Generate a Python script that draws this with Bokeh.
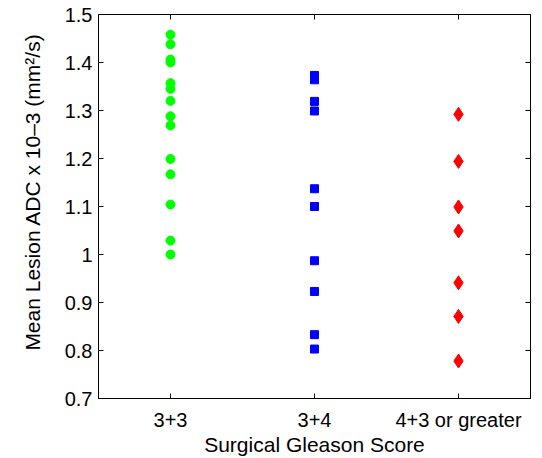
from bokeh.plotting import figure
from bokeh.models import FactorRange, Range1d, FixedTicker, LinearAxis, CategoricalAxis
from bokeh.embed import file_html
from bokeh.resources import INLINE

# ---- data ----
categories = ["3+3", "3+4", "4+3 or greater"]
adc_3p3 = [1.458, 1.438, 1.406, 1.400, 1.357, 1.345, 1.320, 1.288, 1.269,
           1.199, 1.167, 1.104, 1.029, 1.000]
adc_3p4 = [1.373, 1.364, 1.319, 1.299, 1.137, 1.100, 0.987, 0.923, 0.833, 0.803]
adc_4p3 = [1.292, 1.194, 1.099, 1.049, 0.941, 0.871, 0.778]
y_ticks = [0.7, 0.8, 0.9, 1.0, 1.1, 1.2, 1.3, 1.4, 1.5]
y_tick_labels = ["0.7", "0.8", "0.9", "1", "1.1", "1.2", "1.3", "1.4", "1.5"]
x_label = "Surgical Gleason Score"
y_label = "Mean Lesion ADC x 10\u20133 (mm\u00b2/s)"

FONT = "Liberation Sans"
TICK_SIZE = "20px"
LABEL_SIZE = "21px"

p = figure(width=542, height=458, output_backend="svg", toolbar_location=None,
           x_range=FactorRange(*categories, range_padding=0),
           y_range=Range1d(0.7, 1.5),
           min_border_left=98, min_border_right=12, min_border_top=14,
           min_border_bottom=60)

p.background_fill_color = "white"
p.border_fill_color = "white"
p.outline_line_color = "black"
p.outline_line_width = 1
p.xgrid.visible = False
p.ygrid.visible = False

p.scatter([categories[0]] * len(adc_3p3), adc_3p3, marker="circle", size=9,
          fill_color="#00ff00", line_color="#00ff00")
p.scatter([categories[1]] * len(adc_3p4), adc_3p4, marker="square", size=8,
          fill_color="#0000ff", line_color="#0000ff")
p.scatter([categories[2]] * len(adc_4p3), adc_4p3, marker="diamond", size=14,
          fill_color="#ff0000", line_color="#ff0000")

def style(ax, show_labels=True):
    ax.major_tick_in = 5
    ax.major_tick_out = 0
    ax.minor_tick_in = 0
    ax.minor_tick_out = 0
    ax.axis_line_color = "black"
    ax.major_tick_line_color = "black"
    ax.major_label_text_font = FONT
    ax.axis_label_text_font = FONT
    ax.axis_label_text_font_style = "normal"
    ax.axis_label_text_color = "black"
    ax.axis_label_text_font_size = LABEL_SIZE
    if show_labels:
        ax.major_label_text_font_size = TICK_SIZE
        ax.major_label_text_color = "black"
    else:
        ax.major_label_text_font_size = "0px"
        ax.major_label_text_color = None
        ax.major_label_standoff = 0

xax = p.xaxis[0]
style(xax)
xax.axis_label = x_label
xax.major_label_standoff = 10
xax.axis_label_standoff = -1

yax = p.yaxis[0]
style(yax)
yax.ticker = FixedTicker(ticks=y_ticks)
yax.major_label_overrides = dict(zip(y_ticks, y_tick_labels))
# leading no-break spaces nudge the rotated title upward, as in the original
yax.axis_label = "\u00a0" * 5 + y_label
yax.major_label_standoff = 6
yax.axis_label_standoff = 18

top = CategoricalAxis()
style(top, show_labels=False)
p.add_layout(top, "above")

right = LinearAxis(ticker=FixedTicker(ticks=y_ticks))
style(right, show_labels=False)
p.add_layout(right, "right")

open("out.html", "w").write(file_html(p, INLINE))
